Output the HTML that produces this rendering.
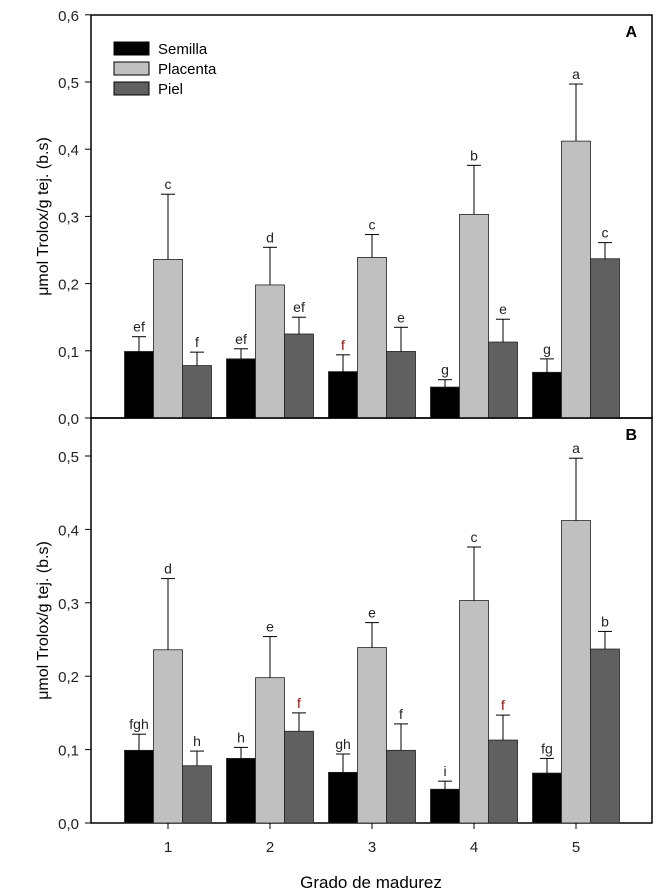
<!DOCTYPE html>
<html><head><meta charset="utf-8"><style>
body{margin:0;background:#fff}
svg{display:block;font-family:"Liberation Sans",Arial,sans-serif}
</style></head><body>
<svg id="chart" width="664" height="893" viewBox="0 0 664 893"></svg>
<script>
const categories=["1","2","3","4","5"];
const seriesNames=["Semilla","Placenta","Piel"];
const semilla=[0.099,0.088,0.069,0.046,0.068];
const placenta=[0.236,0.198,0.239,0.303,0.412];
const piel=[0.078,0.125,0.099,0.113,0.237];
const semillaErr=[0.022,0.015,0.025,0.011,0.020];
const placentaErr=[0.097,0.056,0.034,0.073,0.085];
const pielErr=[0.020,0.025,0.036,0.034,0.024];
const lettersA=[["ef","ef","f","g","g"],["c","d","c","b","a"],["f","ef","e","e","c"]];
const lettersB=[["fgh","h","gh","i","fg"],["d","e","e","c","a"],["h","f","f","f","b"]];
const redA=[[0,0,1,0,0],[0,0,0,0,0],[0,0,0,0,0]];
const redB=[[0,0,0,0,0],[0,0,0,0,0],[0,1,0,1,0]];
const ticksA=[0,0.1,0.2,0.3,0.4,0.5,0.6];
const ticksB=[0,0.1,0.2,0.3,0.4,0.5];
const ticksLabelA=["0,0","0,1","0,2","0,3","0,4","0,5","0,6"];
const ticksLabelB=["0,0","0,1","0,2","0,3","0,4","0,5"];

const NS="http://www.w3.org/2000/svg";
const svg=document.getElementById('chart');
function mk(t,a,txt){const e=document.createElementNS(NS,t);for(const k in a)e.setAttribute(k,a[k]);if(txt!==undefined)e.textContent=txt;svg.appendChild(e);return e;}
const L=91,R=652,colors=["#000","#c0c0c0","#606060"];
const xC=i=>168+i*102;
const bw=29;
const vals=[semilla,placenta,piel],errs=[semillaErr,placentaErr,pielErr];
function panel(id,y0,pxPer,ymax,ticks,tlabels,letters,red,top){
  const y=v=>y0-v*pxPer;
  const fr=mk('rect',{x:L,y:top,width:R-L,height:y0-top,fill:'none',stroke:'#000','stroke-width':1.5});
  
  
  ticks.forEach((t,k)=>{
    const tk=mk('line',{x1:L-6,x2:L,y1:y(t),y2:y(t),stroke:'#000','stroke-width':1});
    
    
    const tl=mk('text',{x:L-12,y:y(t)+6,'text-anchor':'end','font-size':15,fill:'#222'},tlabels[k]);
    
    
  });
  categories.forEach((c,i)=>{
    for(let s=0;s<3;s++){
      const x=xC(i)+(s-1)*bw-bw/2;
      const v=vals[s][i],e=errs[s][i];
      const b=mk('rect',{x:x,y:y(v),width:bw,height:y0-y(v),fill:colors[s],stroke:'#222','stroke-width':0.8});
      
      
      const cx=x+bw/2;
      const eb=mk('line',{x1:cx,x2:cx,y1:y(v),y2:y(v+e),stroke:'#000','stroke-width':1});
      
      
      const cap=mk('line',{x1:cx-7,x2:cx+7,y1:y(v+e),y2:y(v+e),stroke:'#000','stroke-width':1});
      
      
      const lt=mk('text',{x:cx,y:y(v+e)-5,'text-anchor':'middle','font-size':14,fill:red[s][i]?'#8b1010':'#222'},letters[s][i]);
      
      
    }
  });
  const pl=mk('text',{x:637,y:top+22,'text-anchor':'end','font-size':16,'font-weight':'bold',fill:'#000'},id);
  
  
  const yl=mk('text',{x:0,y:0,'text-anchor':'middle','font-size':16,fill:'#000',transform:`translate(48,${(top+y0)/2}) rotate(-90)`},'μmol Trolox/g tej. (b.s)');
  
  
}
panel('A',418,672,0.6,ticksA,ticksLabelA,lettersA,redA,15);
panel('B',823,734,0.552,ticksB,ticksLabelB,lettersB,redB,418);
categories.forEach((c,i)=>{
  const tk=mk('line',{x1:xC(i),x2:xC(i),y1:823,y2:829,stroke:'#000','stroke-width':1});
  
  
  const t=mk('text',{x:xC(i),y:852,'text-anchor':'middle','font-size':15,fill:'#222'},c);
  
  
});
const xt=mk('text',{x:371,y:888,'text-anchor':'middle','font-size':17,fill:'#000'},'Grado de madurez');


seriesNames.forEach((n,s)=>{
  const yy=42+s*20;
  const sw=mk('rect',{x:114,y:yy,width:35,height:13,fill:colors[s],stroke:'#000','stroke-width':1});
  
  
  const lt=mk('text',{x:158,y:yy+12,'font-size':15,fill:'#000'},n);
  
  
});
</script>
</body></html>
